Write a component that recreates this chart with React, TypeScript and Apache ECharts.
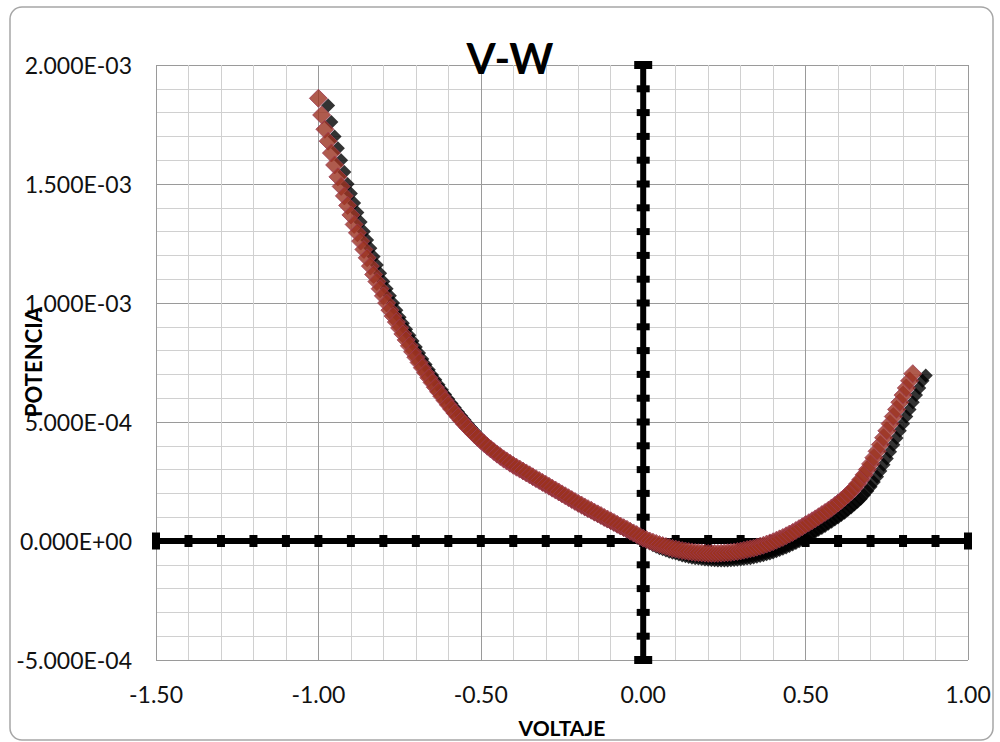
import React, { useEffect, useRef } from "react";
import * as echarts from "echarts";

// Voltage (V) for every measured point
const VOLTAJE = [
  -1.00, -0.99, -0.98, -0.97, -0.96, -0.95, -0.94, -0.93, -0.92, -0.91,
  -0.90, -0.89, -0.88, -0.87, -0.86, -0.85, -0.84, -0.83, -0.82, -0.81,
  -0.80, -0.79, -0.78, -0.77, -0.76, -0.75, -0.74, -0.73, -0.72, -0.71,
  -0.70, -0.69, -0.68, -0.67, -0.66, -0.65, -0.64, -0.63, -0.62, -0.61,
  -0.60, -0.59, -0.58, -0.57, -0.56, -0.55, -0.54, -0.53, -0.52, -0.51,
  -0.50, -0.49, -0.48, -0.47, -0.46, -0.45, -0.44, -0.43, -0.42, -0.41,
  -0.40, -0.39, -0.38, -0.37, -0.36, -0.35, -0.34, -0.33, -0.32, -0.31,
  -0.30, -0.29, -0.28, -0.27, -0.26, -0.25, -0.24, -0.23, -0.22, -0.21,
  -0.20, -0.19, -0.18, -0.17, -0.16, -0.15, -0.14, -0.13, -0.12, -0.11,
  -0.10, -0.09, -0.08, -0.07, -0.06, -0.05, -0.04, -0.03, -0.02, -0.01,
  0.00, 0.01, 0.02, 0.03, 0.04, 0.05, 0.06, 0.07, 0.08, 0.09,
  0.10, 0.11, 0.12, 0.13, 0.14, 0.15, 0.16, 0.17, 0.18, 0.19,
  0.20, 0.21, 0.22, 0.23, 0.24, 0.25, 0.26, 0.27, 0.28, 0.29,
  0.30, 0.31, 0.32, 0.33, 0.34, 0.35, 0.36, 0.37, 0.38, 0.39,
  0.40, 0.41, 0.42, 0.43, 0.44, 0.45, 0.46, 0.47, 0.48, 0.49,
  0.50, 0.51, 0.52, 0.53, 0.54, 0.55, 0.56, 0.57, 0.58, 0.59,
  0.60, 0.61, 0.62, 0.63, 0.64, 0.65, 0.66, 0.67, 0.68, 0.69,
  0.70, 0.71, 0.72, 0.73, 0.74, 0.75, 0.76, 0.77, 0.78, 0.79,
  0.80, 0.81, 0.82, 0.83, 0.84, 0.85, 0.86, 0.87,
];

// Potencia, series 1 (black diamonds), in units of 1E-04 W
const POTENCIA_NEGRA_E4 = [
  null, null, null, 18.3, 17.6, 17.0, 16.5, 16.0, 15.5, 15.0,
  14.6, 14.2, 13.8, 13.4, 13.0, 12.65, 12.3, 11.95, 11.6, 11.25,
  10.9, 10.6, 10.3, 10.0, 9.7, 9.4, 9.15, 8.9, 8.65, 8.4,
  8.15, 7.9, 7.65, 7.42, 7.2, 6.98, 6.77, 6.56, 6.36, 6.16,
  5.97, 5.78, 5.6, 5.42, 5.25, 5.08, 4.92, 4.76, 4.61, 4.46,
  4.32, 4.18, 4.05, 3.92, 3.8, 3.68, 3.57, 3.46, 3.35, 3.25,
  3.15, 3.06, 2.97, 2.88, 2.80, 2.72, 2.64, 2.56, 2.48, 2.40,
  2.32, 2.24, 2.16, 2.08, 2.00, 1.92, 1.84, 1.76, 1.68, 1.60,
  1.52, 1.44, 1.36, 1.28, 1.21, 1.13, 1.06, 0.99, 0.91, 0.84,
  0.77, 0.69, 0.62, 0.55, 0.48, 0.40, 0.33, 0.26, 0.19, 0.11,
  0.04, -0.04, -0.11, -0.18, -0.24, -0.30, -0.35, -0.40, -0.45, -0.49,
  -0.53, -0.57, -0.61, -0.64, -0.67, -0.70, -0.72, -0.74, -0.76, -0.78,
  -0.79, -0.80, -0.81, -0.82, -0.82, -0.82, -0.82, -0.81, -0.80, -0.79,
  -0.78, -0.76, -0.74, -0.72, -0.69, -0.66, -0.63, -0.60, -0.56, -0.52,
  -0.48, -0.43, -0.38, -0.33, -0.27, -0.21, -0.15, -0.08, -0.01, 0.06,
  0.14, 0.22, 0.30, 0.39, 0.47, 0.55, 0.63, 0.72, 0.81, 0.90,
  0.99, 1.09, 1.19, 1.30, 1.41, 1.53, 1.65, 1.78, 1.93, 2.10,
  2.28, 2.48, 2.70, 2.94, 3.20, 3.47, 3.75, 4.04, 4.33, 4.63,
  4.93, 5.23, 5.53, 5.83, 6.13, 6.43, 6.73, 6.95,
];

// Potencia, series 2 (brown diamonds), in units of 1E-04 W
const POTENCIA_ROJA_E4 = [
  18.6, 17.9, 17.3, 16.8, 16.3, 15.8, 15.3, 14.9, 14.5, 14.1,
  13.7, 13.3, 12.95, 12.6, 12.25, 11.9, 11.55, 11.2, 10.9, 10.6,
  10.3, 10.0, 9.7, 9.45, 9.2, 8.95, 8.7, 8.45, 8.2, 7.95,
  7.72, 7.5, 7.28, 7.07, 6.86, 6.66, 6.46, 6.27, 6.08, 5.9,
  5.72, 5.55, 5.38, 5.22, 5.06, 4.91, 4.76, 4.62, 4.48, 4.35,
  4.22, 4.1, 3.98, 3.87, 3.76, 3.65, 3.55, 3.45, 3.36, 3.27,
  3.18, 3.10, 3.02, 2.94, 2.86, 2.78, 2.70, 2.62, 2.54, 2.46,
  2.38, 2.30, 2.22, 2.14, 2.06, 1.98, 1.90, 1.82, 1.74, 1.66,
  1.58, 1.51, 1.43, 1.36, 1.29, 1.21, 1.14, 1.07, 0.99, 0.92,
  0.85, 0.78, 0.70, 0.63, 0.56, 0.49, 0.41, 0.34, 0.27, 0.19,
  0.12, 0.06, 0.00, -0.05, -0.10, -0.15, -0.19, -0.23, -0.27, -0.31,
  -0.34, -0.37, -0.40, -0.42, -0.44, -0.46, -0.48, -0.49, -0.50, -0.51,
  -0.52, -0.52, -0.52, -0.52, -0.51, -0.50, -0.49, -0.48, -0.46, -0.44,
  -0.42, -0.39, -0.36, -0.33, -0.30, -0.26, -0.22, -0.18, -0.13, -0.08,
  -0.03, 0.03, 0.09, 0.15, 0.22, 0.29, 0.36, 0.44, 0.52, 0.60,
  0.69, 0.77, 0.85, 0.93, 1.02, 1.11, 1.20, 1.29, 1.39, 1.49,
  1.60, 1.71, 1.83, 1.95, 2.08, 2.23, 2.40, 2.58, 2.78, 3.00,
  3.24, 3.50, 3.77, 4.05, 4.34, 4.63, 4.93, 5.23, 5.53, 5.83,
  6.13, 6.43, 6.73, 7.03, null, null, null, null,
];

// Black cross drawn at the origin, with its tick marks
const EJE_X_MARCAS = [
  -1.5, -1.4, -1.3, -1.2, -1.1, -1.0, -0.9, -0.8, -0.7, -0.6, -0.5, -0.4, -0.3,
  -0.2, -0.1, 0.0, 0.1, 0.2, 0.3, 0.4, 0.5, 0.6, 0.7, 0.8, 0.9, 1.0,
];
const EJE_Y_MARCAS = [
  -0.0005, -0.0004, -0.0003, -0.0002, -0.0001, 0.0, 0.0001, 0.0002, 0.0003,
  0.0004, 0.0005, 0.0006, 0.0007, 0.0008, 0.0009, 0.001, 0.0011, 0.0012,
  0.0013, 0.0014, 0.0015, 0.0016, 0.0017, 0.0018, 0.0019, 0.002,
];

const TITULO = "V-W";
const NOMBRE_X = "VOLTAJE";
const NOMBRE_Y = "POTENCIA";

const X_MIN = -1.5, X_MAX = 1.0, X_INT = 0.5;
const Y_MIN = -0.0005, Y_MAX = 0.002, Y_INT = 0.0005;

const FONT = "Lato, 'Open Sans', sans-serif";

function fmtE(v: number): string {
  if (Math.abs(v) < 1e-12) return "0.000E+00";
  const [m, e] = v.toExponential(3).split("e");
  const n = parseInt(e, 10);
  return m + "E" + (n < 0 ? "-" : "+") + String(Math.abs(n)).padStart(2, "0");
}

function pares(vs: number[], ps: (number | null)[]) {
  const out: number[][] = [];
  for (let i = 0; i < vs.length; i++) {
    const p = ps[i];
    if (p !== null && p !== undefined) out.push([vs[i], p * 1e-4]);
  }
  return out;
}

export default function App() {
  const ref = useRef<HTMLDivElement>(null);
  useEffect(() => {
    if (!ref.current) return;
    const chart = echarts.init(ref.current, null, { renderer: "svg" });
    const ejeX = EJE_X_MARCAS.map((v, i) => ({
      value: [v, 0],
      symbolSize: i === 0 || i === EJE_X_MARCAS.length - 1 ? [8, 17] : [8, 12],
    }));
    const ejeY = EJE_Y_MARCAS.map((p, i) => ({
      value: [0, p],
      symbolSize: i === 0 || i === EJE_Y_MARCAS.length - 1 ? [18, 8] : [13, 7],
    }));
    chart.setOption({
      animation: false,
      backgroundColor: "#ffffff",
      grid: { left: 156, right: 32, top: 65, bottom: 82 },
      xAxis: {
        type: "value",
        min: X_MIN,
        max: X_MAX,
        interval: X_INT,
        axisLine: { show: false },
        axisTick: { show: false },
        axisLabel: {
          formatter: (v: number) => v.toFixed(2),
          color: "#111",
          fontFamily: FONT,
          fontSize: 23,
          margin: 22,
        },
        splitLine: { show: true, lineStyle: { color: "#9a9a9a", width: 1 } },
        minorTick: { show: false, splitNumber: 5 },
        minorSplitLine: { show: true, lineStyle: { color: "#d0d0d0", width: 1 } },
      },
      yAxis: {
        type: "value",
        min: Y_MIN,
        max: Y_MAX,
        interval: Y_INT,
        axisLine: { show: false },
        axisTick: { show: false },
        axisLabel: {
          formatter: (v: number) => fmtE(v),
          color: "#111",
          fontFamily: FONT,
          fontSize: 23,
          margin: 24,
        },
        splitLine: { show: true, lineStyle: { color: "#9a9a9a", width: 1 } },
        minorTick: { show: false, splitNumber: 5 },
        minorSplitLine: { show: true, lineStyle: { color: "#d0d0d0", width: 1 } },
      },
      series: [
        {
          name: "ejeX",
          type: "line",
          data: ejeX,
          symbol: "rect",
          showSymbol: true,
          clip: false,
          lineStyle: { color: "#000", width: 6 },
          itemStyle: { color: "#000" },
          z: 2,
        },
        {
          name: "ejeY",
          type: "line",
          data: ejeY,
          symbol: "rect",
          showSymbol: true,
          clip: false,
          lineStyle: { color: "#000", width: 6 },
          itemStyle: { color: "#000" },
          z: 2,
        },
        {
          name: "Potencia 1",
          type: "scatter",
          data: pares(VOLTAJE, POTENCIA_NEGRA_E4),
          symbol: "diamond",
          symbolSize: 14,
          itemStyle: { color: "#000000" },
          z: 3,
        },
        {
          name: "Potencia 2",
          type: "scatter",
          data: pares(VOLTAJE, POTENCIA_ROJA_E4),
          symbol: "diamond",
          symbolSize: 18,
          itemStyle: { color: "#9b3220", borderColor: "#9c3b55", borderWidth: 1 },
          z: 4,
        },
      ],
      graphic: [
        {
          type: "rect",
          shape: { x: 10, y: 7, width: 983, height: 733, r: 12 },
          style: { fill: "none", stroke: "#a6a6a6", lineWidth: 1.5 },
          silent: true,
          z: -10,
        },
        {
          type: "text",
          x: 510,
          y: 58,
          style: {
            text: TITULO,
            font: `bold 42px ${FONT}`,
            fill: "#000",
            textAlign: "center",
            textVerticalAlign: "middle",
          },
          z: 100,
        },
        {
          type: "text",
          x: 562,
          y: 727,
          style: {
            text: NOMBRE_X,
            font: `bold 21px ${FONT}`,
            fill: "#000",
            textAlign: "center",
            textVerticalAlign: "middle",
          },
          z: 100,
        },
        {
          type: "text",
          x: 33,
          y: 362,
          rotation: Math.PI / 2,
          style: {
            text: NOMBRE_Y,
            font: `bold 22px ${FONT}`,
            fill: "#000",
            textAlign: "center",
            textVerticalAlign: "middle",
          },
          z: 100,
        },
      ],
    });
    return () => chart.dispose();
  }, []);
  return (
    <div
      ref={ref}
      style={{ position: "fixed", left: 0, top: 0, width: 1000, height: 742, background: "#fff" }}
    />
  );
}
